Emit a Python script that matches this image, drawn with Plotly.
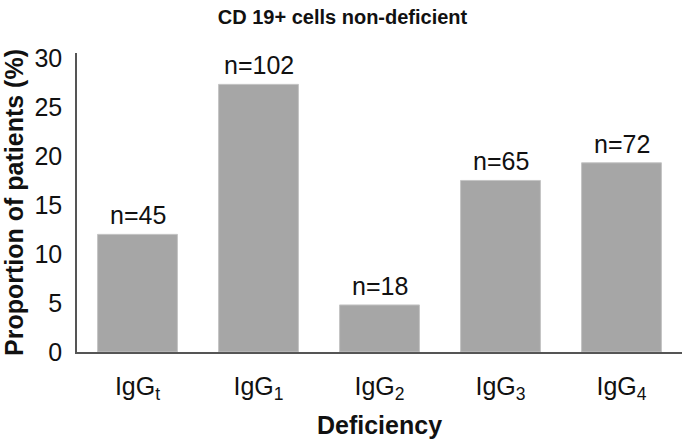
import plotly.graph_objects as go

categories = ["IgG<sub>t</sub>", "IgG<sub>1</sub>", "IgG<sub>2</sub>", "IgG<sub>3</sub>", "IgG<sub>4</sub>"]
proportions = [12.0, 27.3, 4.8, 17.5, 19.3]
n_labels = ["n=45", "n=102", "n=18", "n=65", "n=72"]

FONT = "Liberation Sans, Arial, sans-serif"

fig = go.Figure(go.Bar(
    x=categories,
    y=proportions,
    cliponaxis=False,
    marker=dict(color="#a6a6a6", line=dict(color="#c4c4c4", width=1)),
))

for cat, val, lab in zip(categories, proportions, n_labels):
    fig.add_annotation(
        x=cat, y=val, text=lab, showarrow=False,
        xanchor="center", yanchor="bottom", yshift=3,
        font=dict(family=FONT, size=25, color="#111111"),
    )

fig.update_layout(
    width=685, height=441,
    margin=dict(l=77, r=3, t=53, b=89),
    paper_bgcolor="white", plot_bgcolor="white",
    bargap=0.34,
    showlegend=False,
    title=dict(text="<b>CD 19+ cells non-deficient</b>", x=0.5, xanchor="center",
               y=1, yref="container", yanchor="top", pad=dict(t=10),
               font=dict(family=FONT, size=20, color="#111111")),
    font=dict(family=FONT, color="#111111"),
)

fig.update_xaxes(
    showline=True, linecolor="#555555", linewidth=1.5,
    ticks="", ticklabelstandoff=11, automargin=False,
    tickfont=dict(family=FONT, size=25, color="#111111"),
    title=dict(text="<b>Deficiency</b>", font=dict(family=FONT, size=25, color="#111111"), standoff=13),
    range=[-0.5, 4.5],
)

fig.update_yaxes(
    range=[0, 30.5],
    tickvals=[0, 5, 10, 15, 20, 25, 30],
    showgrid=False, zeroline=False, automargin=False,
    showline=True, linecolor="#555555", linewidth=1.5,
    ticks="", ticklabelstandoff=8,
    tickfont=dict(family=FONT, size=25, color="#111111"),
    title=dict(text="<b>Proportion of patients (%)</b>", font=dict(family=FONT, size=25, color="#111111"), standoff=12),
)

fig.write_html("out.html", config={"displayModeBar": False},
               post_script="document.body.style.margin='0';")
